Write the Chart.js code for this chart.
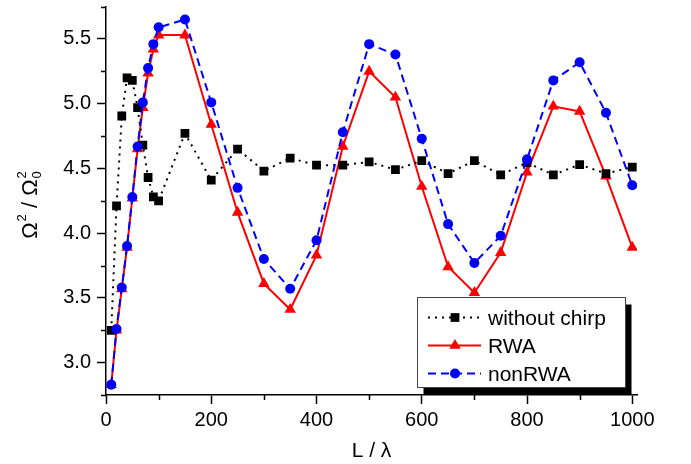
<!DOCTYPE html>
<html>
<head>
<meta charset="utf-8">
<script src="https://cdn.jsdelivr.net/npm/chart.js@4.4.0/dist/chart.umd.min.js"></script>
<style>
    html, body { margin: 0; padding: 0; background: #fff; }
    #wrap { width: 691px; height: 464px; }
</style>
</head>
<body>
<div id="wrap"><canvas id="chart" width="691" height="464"></canvas></div>
<script>
// Data
const lengths = [10, 20, 30, 40, 50, 60, 70, 80, 90, 100, 150, 200, 250, 300, 350, 400, 450, 500, 550, 600, 650, 700, 750, 800, 850, 900, 950, 1000];
const withoutChirp = [3.25, 4.21, 4.905, 5.20, 5.18, 4.97, 4.68, 4.43, 4.28, 4.25, 4.77, 4.41, 4.65, 4.48, 4.58, 4.525, 4.525, 4.55, 4.49, 4.56, 4.46, 4.56, 4.45, 4.545, 4.45, 4.53, 4.46, 4.51];
const rwa = [2.83, 3.25, 3.57, 3.89, 4.27, 4.65, 4.97, 5.235, 5.42, 5.53, 5.53, 4.84, 4.16, 3.61, 3.41, 3.83, 4.67, 5.25, 5.05, 4.36, 3.74, 3.54, 3.85, 4.47, 4.98, 4.94, 4.44, 3.89];
const nonRwa = [2.83, 3.26, 3.58, 3.90, 4.28, 4.67, 5.01, 5.275, 5.46, 5.59, 5.65, 5.01, 4.35, 3.80, 3.57, 3.945, 4.78, 5.46, 5.38, 4.73, 4.07, 3.77, 3.98, 4.57, 5.18, 5.32, 4.93, 4.37];
const seriesNames = ['without chirp', 'RWA', 'nonRWA'];

const xTickValues = [0, 200, 400, 600, 800, 1000];
const xMinorValues = [100, 300, 500, 700, 900];
const yTickValues = [3.0, 3.5, 4.0, 4.5, 5.0, 5.5];
const yMinorValues = [2.75, 3.25, 3.75, 4.25, 4.75, 5.25, 5.75];

const FONT = '"Liberation Sans", Arial, sans-serif';

const toPoints = (arr) => lengths.map((x, i) => ({ x: x, y: arr[i] }));

const styles = {
    'without chirp': { color: '#000000', dash: [2, 5], pointStyle: 'rect', radius: 6.2 },
    'RWA': { color: '#ff0000', dash: [], pointStyle: 'triangle', radius: 6.6 },
    'nonRWA': { color: '#0000ff', dash: [8, 5], pointStyle: 'circle', radius: 5 }
};

const makeDataset = (name, values) => ({
    label: name,
    data: toPoints(values),
    borderColor: styles[name].color,
    backgroundColor: styles[name].color,
    borderWidth: 2,
    borderDash: styles[name].dash,
    pointStyle: styles[name].pointStyle,
    pointRadius: styles[name].radius,
    pointBackgroundColor: styles[name].color,
    pointBorderColor: styles[name].color,
    pointBorderWidth: 0,
    tension: 0
});

// minor ticks, axis titles
const axisExtras = {
    id: 'axisExtras',
    afterDraw(chart) {
        const ctx = chart.ctx;
        const xs = chart.scales.x, ys = chart.scales.y;
        const area = chart.chartArea;
        ctx.save();
        ctx.strokeStyle = '#000';
        ctx.lineWidth = 1.5;
        ctx.beginPath();
        xMinorValues.forEach(v => {
            const px = Math.round(xs.getPixelForValue(v)) + 0.5;
            ctx.moveTo(px, area.bottom);
            ctx.lineTo(px, area.bottom + 5);
        });
        yMinorValues.forEach(v => {
            const py = Math.round(ys.getPixelForValue(v)) + 0.5;
            ctx.moveTo(area.left, py);
            ctx.lineTo(area.left - 5, py);
        });
        ctx.stroke();

        // x title
        ctx.fillStyle = '#000';
        ctx.font = '21px ' + FONT;
        ctx.textAlign = 'center';
        ctx.textBaseline = 'alphabetic';
        ctx.fillText('L / λ', (area.left + area.right) / 2, 457);

        // y title, rotated, with super/subscripts
        ctx.translate(37, 205);
        ctx.rotate(-Math.PI / 2);
        ctx.textAlign = 'left';
        const big = '22px ' + FONT, small = '13px ' + FONT;
        const parts = [
            { t: 'Ω', f: big, dy: 0 },
            { t: '2', f: small, dy: -11 },
            { t: ' / ', f: big, dy: 0 },
            { t: 'Ω', f: big, dy: 0 },
            { t: '2', f: small, dy: -11, stack: '0', sdy: 4 }
        ];
        let total = 0;
        parts.forEach(p => { ctx.font = p.f; p.w = ctx.measureText(p.t).width; total += p.w + (p.f === small ? 1 : 0); });
        let cx = -total / 2;
        parts.forEach(p => {
            ctx.font = p.f;
            ctx.fillText(p.t, cx + (p.f === small ? 1 : 0), p.dy);
            if (p.stack) ctx.fillText(p.stack, cx + 1, p.sdy);
            cx += p.w + (p.f === small ? 1 : 0);
        });
        ctx.restore();
    }
};

// legend box with shadow
const boxLegend = {
    id: 'boxLegend',
    afterDraw(chart) {
        const ctx = chart.ctx;
        const box = { x: 417.5, y: 297.5, w: 208, h: 90 };
        ctx.save();
        ctx.fillStyle = '#000';
        ctx.fillRect(box.x + 6, box.y + 7, box.w, box.h);
        ctx.fillStyle = '#fff';
        ctx.fillRect(box.x, box.y, box.w, box.h);
        ctx.strokeStyle = '#444';
        ctx.lineWidth = 1;
        ctx.strokeRect(box.x, box.y, box.w, box.h);

        seriesNames.forEach((name, i) => {
            const s = styles[name];
            const cy = 317.5 + i * 28;
            ctx.strokeStyle = s.color;
            ctx.lineWidth = 2;
            ctx.setLineDash(s.dash);
            ctx.beginPath();
            ctx.moveTo(428, cy);
            ctx.lineTo(481, cy);
            ctx.stroke();
            ctx.setLineDash([]);
            ctx.fillStyle = s.color;
            Chart.helpers.drawPoint(ctx, { pointStyle: s.pointStyle, radius: s.radius, borderWidth: 0, rotation: 0 }, 455, cy);
            ctx.fillStyle = '#000';
            ctx.font = '21px ' + FONT;
            ctx.textBaseline = 'alphabetic';
            ctx.textAlign = 'left';
            ctx.fillText(name, 488, cy + 7.5);
        });
        ctx.restore();
    }
};

new Chart(document.getElementById('chart').getContext('2d'), {
    type: 'line',
    data: {
        datasets: [
            makeDataset('nonRWA', nonRwa),
            makeDataset('without chirp', withoutChirp),
            makeDataset('RWA', rwa)
        ]
    },
    options: {
        responsive: false,
        animation: false,
        devicePixelRatio: 1,
        layout: { padding: { left: 0, top: 5, right: 54, bottom: 0 } },
        plugins: { legend: { display: false }, tooltip: { enabled: false } },
        scales: {
            x: {
                type: 'linear', min: 0, max: 1009,
                afterBuildTicks: (scale) => { scale.ticks = xTickValues.map(v => ({ value: v })); },
                afterFit: (scale) => { scale.height = 69; scale.paddingLeft = 0; scale.paddingRight = 0; },
                grid: { drawOnChartArea: false, drawTicks: true, tickLength: 9, tickColor: '#000', tickWidth: 1.5 },
                border: { display: true, color: '#000', width: 1.5 },
                ticks: { color: '#000', font: { family: FONT, size: 20 }, padding: 4, maxRotation: 0, callback: v => String(v) }
            },
            y: {
                type: 'linear', min: 2.75, max: 5.75,
                afterBuildTicks: (scale) => { scale.ticks = yTickValues.map(v => ({ value: v })); },
                afterFit: (scale) => { scale.width = 106; scale.paddingTop = 0; scale.paddingBottom = 0; },
                grid: { drawOnChartArea: false, drawTicks: true, tickLength: 9, tickColor: '#000', tickWidth: 1.5 },
                border: { display: true, color: '#000', width: 1.5 },
                ticks: { color: '#000', font: { family: FONT, size: 20 }, padding: 6, callback: v => Number(v).toFixed(1) }
            }
        }
    },
    plugins: [axisExtras, boxLegend]
});
</script>
</body>
</html>
